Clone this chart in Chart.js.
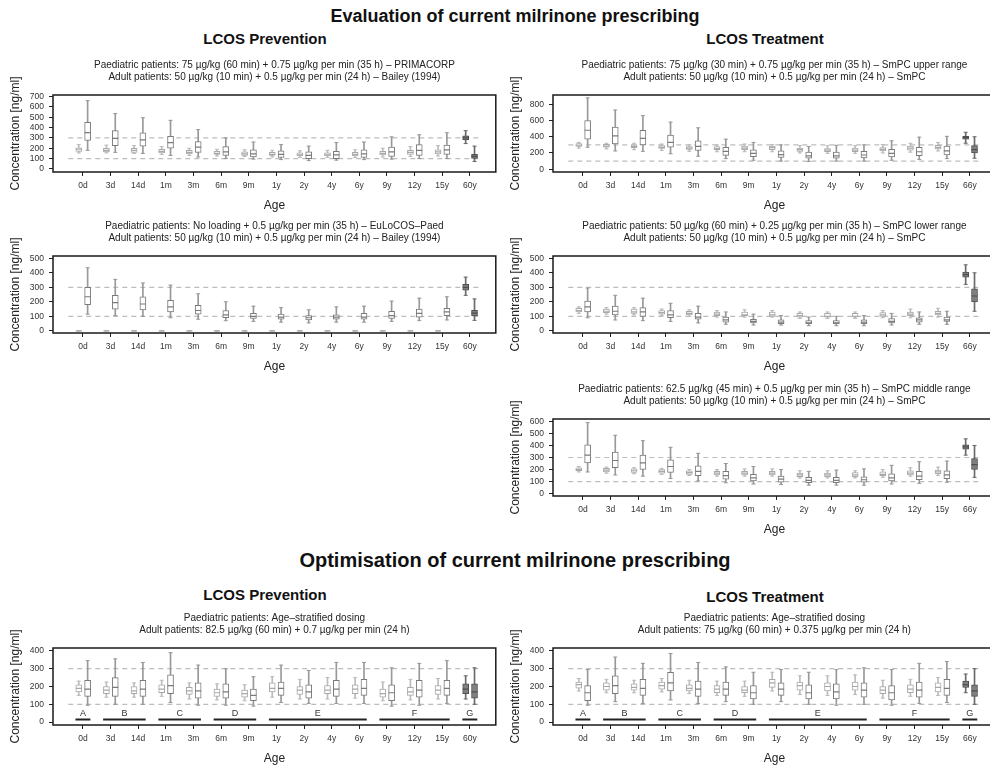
<!DOCTYPE html>
<html><head><meta charset="utf-8">
<script src="https://cdn.jsdelivr.net/npm/chart.js@4.4.1/dist/chart.umd.min.js"></script>
<style>
html,body{margin:0;padding:0;background:#fff;}
#wrap{position:relative;width:990px;height:769px;overflow:hidden;font-family:"Liberation Sans",Arial,sans-serif;color:#111;background:#fff;}
.t{position:absolute;white-space:nowrap;transform:translate(-50%,-50%);line-height:1;font-weight:bold;}
.pc{position:absolute;width:500px;height:155px;}
</style></head><body>
<div id="wrap">
<div class="t" style="left:515px;top:16px;font-size:18px">Evaluation of current milrinone prescribing</div>
<div class="t" style="left:265px;top:38px;font-size:15px">LCOS Prevention</div>
<div class="t" style="left:765px;top:38px;font-size:15px">LCOS Treatment</div>
<div class="t" style="left:515px;top:560px;font-size:20px">Optimisation of current milrinone prescribing</div>
<div class="t" style="left:265px;top:594px;font-size:15px">LCOS Prevention</div>
<div class="t" style="left:765px;top:596px;font-size:15px">LCOS Treatment</div>
<canvas id="c1" class="pc" width="500" height="155" style="left:0;top:59px"></canvas>
<canvas id="c2" class="pc" width="500" height="155" style="left:500px;top:59px"></canvas>
<canvas id="c3" class="pc" width="500" height="155" style="left:0;top:220px"></canvas>
<canvas id="c4" class="pc" width="500" height="155" style="left:500px;top:220px"></canvas>
<canvas id="c5" class="pc" width="500" height="155" style="left:500px;top:383px"></canvas>
<canvas id="c6" class="pc" width="500" height="155" style="left:0;top:612px"></canvas>
<canvas id="c7" class="pc" width="500" height="155" style="left:500px;top:612px"></canvas>
</div>
<script>
// ---------- categories ----------
const agesAdult60 = ['0d','3d','14d','1m','3m','6m','9m','1y','2y','4y','6y','9y','12y','15y','60y'];
const agesAdult66 = ['0d','3d','14d','1m','3m','6m','9m','1y','2y','4y','6y','9y','12y','15y','66y'];

// ---------- tick labels ----------
const ticks700 = [0,100,200,300,400,500,600,700];
const ticks800 = [0,200,400,600,800];
const ticks500 = [0,100,200,300,400,500];
const ticks600 = [0,100,200,300,400,500,600];
const ticks400 = [0,100,200,300,400];

// target range reference levels
const refLevels = [100, 300];

// age groups (optimisation panels)
const groupNames = ['A','B','C','D','E','F','G'];
const groupStart = [0,1,3,5,7,11,14];
const groupEnd   = [0,2,4,6,10,13,14];
const groupLineLevel = 15;
const groupLabelLevel = 48;

// ---------- series: [min, q1, median, q3, max] ----------
// Panel 1: LCOS Prevention – PRIMACORP / Bailey
const p1Left = [[155,170,190,205,235],[155,165,180,200,230],[150,160,180,200,225],[140,155,170,190,215],[130,145,160,180,200],[125,140,150,170,190],[120,130,145,165,185],[115,130,140,160,180],[110,125,135,155,175],[110,125,135,155,180],[110,125,140,160,185],[115,135,150,170,200],[120,140,160,180,215],[125,145,165,185,225],[245,280,300,320,370]];
const p1Right = [[180,275,350,450,660],[160,225,295,370,535],[150,220,280,350,495],[130,200,255,315,470],[115,160,210,265,380],[100,130,165,215,300],[95,115,145,185,260],[90,110,140,175,235],[80,100,130,165,220],[85,100,135,170,255],[90,110,145,185,260],[95,120,165,210,310],[100,130,180,235,330],[100,140,185,230,350],[72,102,122,142,220]];
// Panel 2: LCOS Treatment – SmPC upper range
const p2Left = [[260,280,295,315,330],[250,270,285,305,320],[240,265,280,300,320],[230,255,270,290,310],[220,245,260,280,300],[215,240,255,280,300],[215,240,260,285,310],[215,240,265,285,305],[200,220,240,260,290],[195,215,235,255,290],[195,215,235,260,290],[200,225,245,265,305],[210,235,260,285,320],[225,250,270,295,330],[320,370,388,405,455]];
const p2Right = [[270,370,480,600,880],[225,310,410,520,730],[220,300,380,480,660],[190,270,330,420,580],[160,230,280,350,510],[130,170,220,270,370],[110,155,195,240,330],[100,145,180,225,300],[95,135,165,210,280],[100,135,165,210,295],[100,140,175,220,300],[110,150,195,245,350],[120,165,215,270,395],[130,175,225,285,405],[135,200,240,290,400]];
// Panel 3: LCOS Prevention – EuLoCOS-Paed / Bailey
const p3Left = [[0,0,0,0,0],[0,0,0,0,0],[0,0,0,0,0],[0,0,0,0,0],[0,0,0,0,0],[0,0,0,0,0],[0,0,0,0,0],[0,0,0,0,0],[0,0,0,0,0],[0,0,0,0,0],[0,0,0,0,0],[0,0,0,0,0],[0,0,0,0,0],[0,0,0,0,0],[245,280,300,320,370]];
const p3Right = [[115,180,235,300,435],[105,150,195,245,355],[100,145,185,235,330],[90,130,165,210,315],[80,115,140,175,255],[70,90,110,140,200],[65,85,100,120,170],[60,80,95,115,160],[55,75,90,105,145],[60,80,95,110,165],[60,80,95,120,170],[65,85,105,135,205],[70,95,120,150,225],[75,105,130,155,235],[72,102,122,142,220]];
// Panel 4: LCOS Treatment – SmPC lower range
const p4Left = [[120,130,140,155,165],[115,125,135,150,160],[110,120,130,150,160],[105,115,125,140,150],[100,110,120,135,145],[95,105,115,130,140],[95,105,110,130,145],[95,100,110,130,140],[85,95,105,120,130],[85,95,100,120,130],[85,95,100,120,130],[90,100,110,125,140],[90,105,115,130,150],[95,110,120,135,155],[320,370,388,405,455]];
const p4Right = [[90,130,165,205,295],[75,110,135,170,245],[70,100,130,160,225],[65,90,110,140,190],[55,80,95,120,170],[45,60,75,95,130],[40,55,65,80,115],[40,50,60,75,105],[35,50,55,70,95],[35,50,55,70,100],[35,50,60,75,105],[40,55,65,85,120],[45,60,75,90,130],[45,65,75,95,135],[135,200,240,290,400]];
// Panel 5: LCOS Treatment – SmPC middle range
const p5Left = [[180,190,200,215,225],[170,180,195,210,220],[165,175,190,205,215],[160,170,185,200,210],[150,160,175,190,200],[145,155,170,185,200],[145,155,170,185,205],[145,155,170,185,205],[130,140,155,170,190],[130,140,155,170,190],[130,140,155,175,190],[135,150,160,180,200],[145,155,170,190,215],[150,165,180,195,220],[320,370,388,405,455]];
const p5Right = [[180,255,320,405,590],[155,215,275,345,485],[145,200,255,320,440],[125,175,225,280,385],[105,150,185,230,335],[90,120,150,185,250],[80,105,130,160,225],[75,95,120,145,200],[70,90,110,135,185],[70,90,110,135,195],[70,95,115,140,205],[80,105,130,165,235],[85,115,145,185,265],[95,125,155,190,270],[135,200,240,290,400]];
// Panel 6: Optimisation – LCOS Prevention
const p6Left = [[150,170,190,210,230],[140,160,180,200,225],[140,160,175,200,220],[145,165,185,210,235],[130,155,175,195,220],[125,145,165,185,215],[120,140,160,180,210],[140,170,190,220,255],[130,155,180,200,240],[130,160,180,205,250],[135,160,185,210,250],[120,140,160,185,225],[125,150,170,195,240],[130,155,180,205,245],[130,160,185,215,260]];
const p6Right = [[95,145,185,235,345],[100,145,195,250,355],[100,145,185,235,335],[110,160,205,265,390],[95,135,175,220,320],[95,135,170,215,300],[90,120,150,185,255],[110,150,190,225,320],[105,135,170,210,290],[105,145,185,235,335],[105,150,190,240,335],[90,120,165,210,305],[95,140,180,235,330],[105,150,190,235,345],[100,135,170,215,305]];
// Panel 7: Optimisation – LCOS Treatment
const p7Left = [[175,190,210,225,245],[165,180,200,220,240],[165,180,195,215,235],[170,185,205,225,245],[160,175,190,210,235],[150,165,185,205,230],[145,165,180,200,230],[175,195,220,240,280],[155,180,205,225,260],[150,175,200,220,260],[155,180,200,225,265],[135,160,180,200,235],[145,165,185,210,240],[150,170,195,220,250],[165,195,210,230,270]];
const p7Right = [[95,120,165,205,295],[115,160,205,260,365],[105,150,190,240,330],[125,175,220,280,385],[105,145,185,230,335],[115,150,185,225,310],[100,130,165,205,280],[115,150,185,220,295],[100,130,165,210,280],[95,130,170,215,295],[100,140,180,220,305],[95,125,165,205,295],[105,140,180,225,330],[110,150,190,240,340],[100,145,175,210,300]];

// ---------- styling ----------
const FONT = '"Liberation Sans", Arial, sans-serif';
const LEFT_OFF = -0.15, RIGHT_OFF = 0.17;
const leftColor = '#a8a8a8', rightColor = '#7a7a7a';
const leftWhisker = '#bcbcbc', rightWhisker = '#999999';
const adultFill = '#808080', adultBorder = '#4f4f4f', adultWhisker = '#6a6a6a';
const ADULT = 14;

const framePlugin = {
  id: 'frame',
  afterDraw(chart) {
    const a = chart.chartArea, ctx = chart.ctx;
    ctx.save();
    ctx.strokeStyle = '#1a1a1a'; ctx.lineWidth = 1.5;
    ctx.strokeRect(a.left, a.top, a.right - a.left, a.bottom - a.top);
    ctx.restore();
  }
};
const groupLabelPlugin = {
  id: 'groupLabels',
  afterDatasetsDraw(chart, args, opts) {
    if (!opts || !opts.show) return;
    const ctx = chart.ctx, xs = chart.scales.x, ys = chart.scales.y;
    ctx.save();
    ctx.font = '9px ' + FONT; ctx.fillStyle = '#333';
    ctx.textAlign = 'center'; ctx.textBaseline = 'middle';
    groupNames.forEach((g, k) => {
      ctx.fillText(g, xs.getPixelForValue((groupStart[k] + groupEnd[k]) / 2), ys.getPixelForValue(groupLabelLevel));
    });
    ctx.restore();
  }
};

function boxSets(stats, off, color, whisker) {
  const isA = (c) => c.dataIndex === ADULT;
  const lineCol = (c) => isA(c) ? adultBorder : color;
  const sets = [];
  sets.push({ type: 'bar', grouped: false, order: 8, barThickness: 1,
    data: stats.map((s, i) => ({ x: i + off, y: [s[0], s[4]] })),
    backgroundColor: (c) => isA(c) ? adultWhisker : whisker, borderWidth: 0 });
  sets.push({ type: 'bar', grouped: false, order: 6, barThickness: 6,
    data: stats.map((s, i) => ({ x: i + off, y: [s[1], s[3]] })),
    backgroundColor: (c) => isA(c) ? adultFill : '#ffffff',
    borderColor: lineCol, borderWidth: 1, borderSkipped: false });
  sets.push({ type: 'scatter', order: 2,
    data: stats.map((s, i) => ({ x: i + off, y: s[2] })),
    pointStyle: 'line', pointRadius: 3, pointHoverRadius: 3, pointBorderWidth: 1.2,
    pointBorderColor: lineCol });
  const caps = [];
  stats.forEach((s, i) => { caps.push({ x: i + off, y: s[0] }); caps.push({ x: i + off, y: s[4] }); });
  sets.push({ type: 'scatter', order: 3, data: caps,
    pointStyle: 'line', pointRadius: 2, pointHoverRadius: 2, pointBorderWidth: 1,
    pointBorderColor: (c) => Math.floor(c.dataIndex / 2) === ADULT ? adultWhisker : whisker });
  return sets;
}

function makePanel(id, labels, left, right, yMin, yMax, yTicks, subtitle, grouped) {
  const datasets = [];
  refLevels.forEach(v => datasets.push({ type: 'line', order: 10,
    data: [{ x: -0.53, y: v }, { x: labels.length - 1 + 0.37, y: v }],
    borderColor: '#bdbdbd', borderWidth: 1.2, borderDash: [5, 4], pointRadius: 0, fill: false }));
  datasets.push(...boxSets(left, LEFT_OFF, leftColor, leftWhisker));
  datasets.push(...boxSets(right, RIGHT_OFF, rightColor, rightWhisker));
  if (grouped) {
    const pts = [];
    groupNames.forEach((g, k) => {
      pts.push({ x: groupStart[k] - 0.27, y: groupLineLevel });
      pts.push({ x: groupEnd[k] + 0.27, y: groupLineLevel });
      pts.push({ x: groupEnd[k] + 0.5, y: null });
    });
    datasets.push({ type: 'line', order: 1, data: pts, spanGaps: false,
      borderColor: '#222', borderWidth: 2, pointRadius: 0, fill: false });
  }
  new Chart(document.getElementById(id), {
    type: 'bar',
    data: { datasets },
    plugins: [framePlugin, groupLabelPlugin],
    options: {
      responsive: false, animation: false, events: [],
      layout: { padding: { left: 0, right: 3, top: 0, bottom: 0 } },
      plugins: {
        legend: { display: false }, tooltip: { enabled: false },
        title: { display: true, text: subtitle, fullSize: false, color: '#222',
          font: { family: FONT, size: 10, weight: 'normal', lineHeight: 1.2 },
          padding: { top: 0, bottom: 12 } },
        groupLabels: { show: grouped }
      },
      scales: {
        x: { type: 'linear', offset: false, min: -1.083, max: labels.length - 1 + 0.94,
          afterFit: (s) => { s.height = 42; },
          afterBuildTicks: (s) => { s.ticks = labels.map((_, i) => ({ value: i })); },
          ticks: { autoSkip: false, maxRotation: 0, padding: 5, color: '#333',
            font: { family: FONT, size: 8.5 }, callback: (v) => labels[v] },
          grid: { offset: false, drawOnChartArea: false, drawTicks: true, tickLength: 4, color: '#222' },
          border: { display: false },
          title: { display: true, text: 'Age', color: '#222', font: { family: FONT, size: 12 }, padding: { top: 0, bottom: 1.5 } } },
        y: { type: 'linear', min: yMin, max: yMax,
          afterFit: (s) => { s.width = 53; },
          afterBuildTicks: (s) => { s.ticks = yTicks.map(v => ({ value: v })); },
          ticks: { autoSkip: false, padding: 5, color: '#333', font: { family: FONT, size: 8.5 } },
          grid: { drawOnChartArea: false, drawTicks: true, tickLength: 4, color: '#222' },
          border: { display: false },
          title: { display: true, text: 'Concentration [ng/ml]', color: '#222', font: { family: FONT, size: 12 }, padding: { top: 8, bottom: 0 } } }
      }
    }
  });
}

makePanel('c1', agesAdult60, p1Left, p1Right, -30, 715, ticks700,
  ['Paediatric patients: 75 µg/kg (60 min) + 0.75 µg/kg per min (35 h) – PRIMACORP',
   'Adult patients: 50 µg/kg (10 min) + 0.5 µg/kg per min (24 h) – Bailey (1994)'], false);
makePanel('c2', agesAdult66, p2Left, p2Right, -35, 915, ticks800,
  ['Paediatric patients: 75 µg/kg (30 min) + 0.75 µg/kg per min (35 h) – SmPC upper range',
   'Adult patients: 50 µg/kg (10 min) + 0.5 µg/kg per min (24 h) – SmPC'], false);
makePanel('c3', agesAdult60, p3Left, p3Right, -15, 516, ticks500,
  ['Paediatric patients: No loading + 0.5 µg/kg per min (35 h) – EuLoCOS–Paed',
   'Adult patients: 50 µg/kg (10 min) + 0.5 µg/kg per min (24 h) – Bailey (1994)'], false);
makePanel('c4', agesAdult66, p4Left, p4Right, -15, 516, ticks500,
  ['Paediatric patients: 50 µg/kg (60 min) + 0.25 µg/kg per min (35 h) – SmPC lower range',
   'Adult patients: 50 µg/kg (10 min) + 0.5 µg/kg per min (24 h) – SmPC'], false);
makePanel('c5', agesAdult66, p5Left, p5Right, -20, 620, ticks600,
  ['Paediatric patients: 62.5 µg/kg (45 min) + 0.5 µg/kg per min (35 h) – SmPC middle range',
   'Adult patients: 50 µg/kg (10 min) + 0.5 µg/kg per min (24 h) – SmPC'], false);
makePanel('c6', agesAdult60, p6Left, p6Right, -16, 416, ticks400,
  ['Paediatric patients: Age–stratified dosing',
   'Adult patients: 82.5 µg/kg (60 min) + 0.7 µg/kg per min (24 h)'], true);
makePanel('c7', agesAdult66, p7Left, p7Right, -16, 416, ticks400,
  ['Paediatric patients: Age–stratified dosing',
   'Adult patients: 75 µg/kg (60 min) + 0.375 µg/kg per min (24 h)'], true);
</script>
</body></html>
